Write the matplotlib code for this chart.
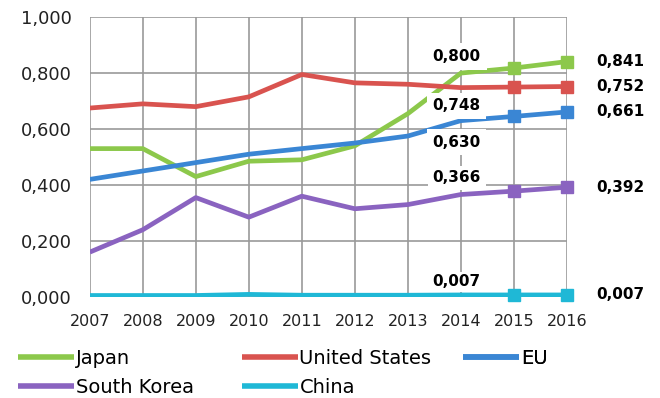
import matplotlib
matplotlib.use('Agg')
import matplotlib.pyplot as plt
from matplotlib.ticker import FuncFormatter

years = [2007, 2008, 2009, 2010, 2011, 2012, 2013, 2014, 2015, 2016]
japan = [0.530, 0.530, 0.430, 0.485, 0.490, 0.540, 0.655, 0.800, 0.818, 0.841]
usa = [0.675, 0.690, 0.680, 0.715, 0.795, 0.765, 0.760, 0.748, 0.750, 0.752]
eu = [0.420, 0.450, 0.480, 0.510, 0.530, 0.550, 0.575, 0.630, 0.645, 0.661]
korea = [0.160, 0.240, 0.355, 0.285, 0.360, 0.315, 0.330, 0.366, 0.378, 0.392]
china = [0.005, 0.005, 0.005, 0.009, 0.006, 0.006, 0.006, 0.007, 0.007, 0.007]

names = ['Japan', 'United States', 'EU', 'South Korea', 'China']
colors = ['#8cc84b', '#d9534f', '#3a86d4', '#8a63c0', '#1fb8d6']
# offsets (points) and box pads for the 2014 labels
lab14_dy = [12, -13, -15.4, 12, 9.4]
lab14_pad = [0.4, 0.35, 0.35, 0.3, 0.15]

def fmt(v):
    return ('%.3f' % v).replace('.', ',')

fig = plt.figure(figsize=(6.6, 3.98), dpi=100)
ax = fig.add_axes([0.136, 0.254, 0.723, 0.703])

series = [japan, usa, eu, korea, china]
handles = []
for k, s in enumerate(series):
    h, = ax.plot(years, s, color=colors[k], lw=3.4, label=names[k], zorder=3,
                 solid_capstyle='butt')
    handles.append(h)
    ax.plot(years[-2:], s[-2:], ls='', marker='s', ms=9, color=colors[k],
            clip_on=False, zorder=4)
    ax.annotate(fmt(s[7]), (years[7], s[7]), xytext=(-3, lab14_dy[k]),
                textcoords='offset points', ha='center', va='center',
                fontsize=11, fontweight='bold', zorder=5,
                bbox=dict(boxstyle='square,pad=%s' % lab14_pad[k], fc='white', ec='none'))
    ax.annotate(fmt(s[-1]), (years[-1], s[-1]), xytext=(21, 0),
                textcoords='offset points', ha='left', va='center',
                fontsize=11, fontweight='bold', annotation_clip=False)

ax.set_xlim(2007, 2016)
ax.set_ylim(0, 1.0)
ax.set_xticks(years)
ax.set_yticks([0, 0.2, 0.4, 0.6, 0.8, 1.0])
ax.yaxis.set_major_formatter(FuncFormatter(lambda v, p: fmt(v)))
ax.grid(True, color='#9a9a9a', lw=1.2, zorder=0)
ax.set_axisbelow(True)
for sp in ax.spines.values():
    sp.set_visible(False)
ax.tick_params(axis='both', length=0, colors='#222222')
ax.tick_params(axis='x', pad=12, labelsize=11.5)
ax.tick_params(axis='y', pad=13, labelsize=13)

# three legend columns of equal width: Japan/Korea, US/China, EU
cols = [[0, 3], [1, 4], [2]]
col_x = [-0.150, 0.318, 0.783]
for c, idx in enumerate(cols):
    leg = ax.legend([handles[i] for i in idx], [names[i] for i in idx],
                    loc='upper left', bbox_to_anchor=(col_x[c], -0.186),
                    frameon=False, fontsize=14, handlelength=2.88,
                    handletextpad=0.1, labelspacing=0.5,
                    borderaxespad=0, borderpad=0)
    for line in leg.get_lines():
        line.set_linewidth(4)
    ax.add_artist(leg)

plt.savefig('out.png', dpi=100)
